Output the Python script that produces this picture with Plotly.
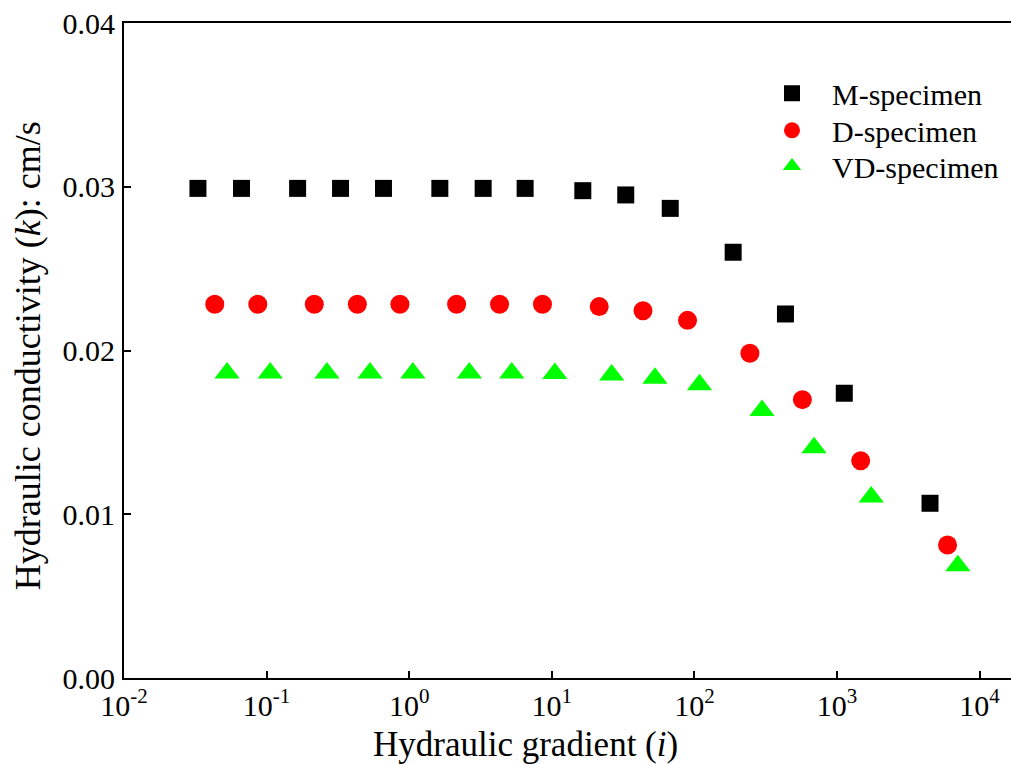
import plotly.graph_objects as go

# Data
m_x = [0.033, 0.0667, 0.165, 0.33, 0.66, 1.64, 3.3, 6.5, 16.5, 33, 67.7, 187, 435, 1125, 4490]
m_y = [0.0299, 0.0299, 0.0299, 0.0299, 0.0299, 0.0299, 0.0299, 0.0299,
       0.02976, 0.0295, 0.02868, 0.0260, 0.02223, 0.01739, 0.01067]

d_x = [0.0433, 0.0867, 0.216, 0.433, 0.861, 2.15, 4.3, 8.6, 21.5, 43.6, 89.5, 245, 572, 1466, 5960]
d_y = [0.02282, 0.02282, 0.02282, 0.02282, 0.02282, 0.02282, 0.02282, 0.02282,
       0.02268, 0.02243, 0.02184, 0.01983, 0.0170, 0.01327, 0.00812]

vd_x = [0.0528, 0.106, 0.265, 0.531, 1.06, 2.64, 5.24, 10.5, 26.3, 52.9, 108.6, 298, 690, 1738, 7035]
vd_y = [0.01863, 0.01863, 0.01863, 0.01863, 0.01863, 0.01863, 0.01863, 0.0186,
        0.0185, 0.01831, 0.01791, 0.01634, 0.01406, 0.01105, 0.00685]

x_tickvals = [0.01, 0.1, 1, 10, 100, 1000, 10000]
x_ticktext = ["10<sup>-2</sup>", "10<sup>-1</sup>", "10<sup>0</sup>", "10<sup>1</sup>",
              "10<sup>2</sup>", "10<sup>3</sup>", "10<sup>4</sup>"]
y_tickvals = [0.0, 0.01, 0.02, 0.03, 0.04]
y_ticktext = ["0.00", "0.01", "0.02", "0.03", "0.04"]

FONT = "Liberation Serif, Times New Roman, serif"

fig = go.Figure()
fig.add_trace(go.Scatter(x=m_x, y=m_y, mode="markers", name="M-specimen", legend="legend",
                         marker=dict(symbol="square", size=17, color="#000000")))
fig.add_trace(go.Scatter(x=d_x, y=d_y, mode="markers", name="D-specimen", legend="legend2",
                         marker=dict(symbol="circle", size=19, color="#FF0000")))
fig.add_trace(go.Scatter(x=vd_x, y=vd_y, mode="markers", name="VD-specimen", legend="legend3",
                         marker=dict(symbol="triangle-up", size=22, color="#00FF00")))


def leg(py):
    return dict(x=(752 - 124) / 887, y=(678 - py) / 655, xref="paper", yref="paper",
                xanchor="left", yanchor="middle", itemwidth=70,
                font=dict(family=FONT, size=30, color="black"),
                bgcolor="rgba(0,0,0,0)", itemsizing="trace")


fig.update_layout(
    width=1011, height=764,
    margin=dict(l=124, r=0, t=23, b=86),
    paper_bgcolor="white", plot_bgcolor="white",
    font=dict(family=FONT, color="black"),
    showlegend=True,
    legend=leg(93.3), legend2=leg(130.3), legend3=leg(166),
    annotations=[
        dict(text="Hydraulic gradient (<i>i</i>)", xref="paper", yref="paper",
             x=0.4532, y=-0.1008, xanchor="center", yanchor="middle", showarrow=False,
             font=dict(family=FONT, size=35, color="black")),
        dict(text="Hydraulic conductivity (<i>k</i>): cm/s", xref="paper", yref="paper",
             x=-0.108, y=0.4916, xanchor="center", yanchor="middle", showarrow=False,
             textangle=-90, font=dict(family=FONT, size=36, color="black")),
    ],
)

fig.update_xaxes(type="log", range=[-2, -2 + 887 / 142.6],
                 tickvals=x_tickvals, ticktext=x_ticktext,
                 ticks="inside", ticklen=7, tickwidth=2, tickcolor="black",
                 showline=True, linewidth=2, linecolor="black", mirror=True,
                 showgrid=False, zeroline=False,
                 tickfont=dict(family=FONT, size=30, color="black"))
fig.update_yaxes(range=[0, 0.04],
                 tickvals=y_tickvals, ticktext=y_ticktext,
                 ticks="inside", ticklen=7, tickwidth=2, tickcolor="black",
                 showline=True, linewidth=2, linecolor="black", mirror=False,
                 showgrid=False, zeroline=False, ticklabelstandoff=1,
                 tickfont=dict(family=FONT, size=30, color="black"))

fig.write_html("out.html")
